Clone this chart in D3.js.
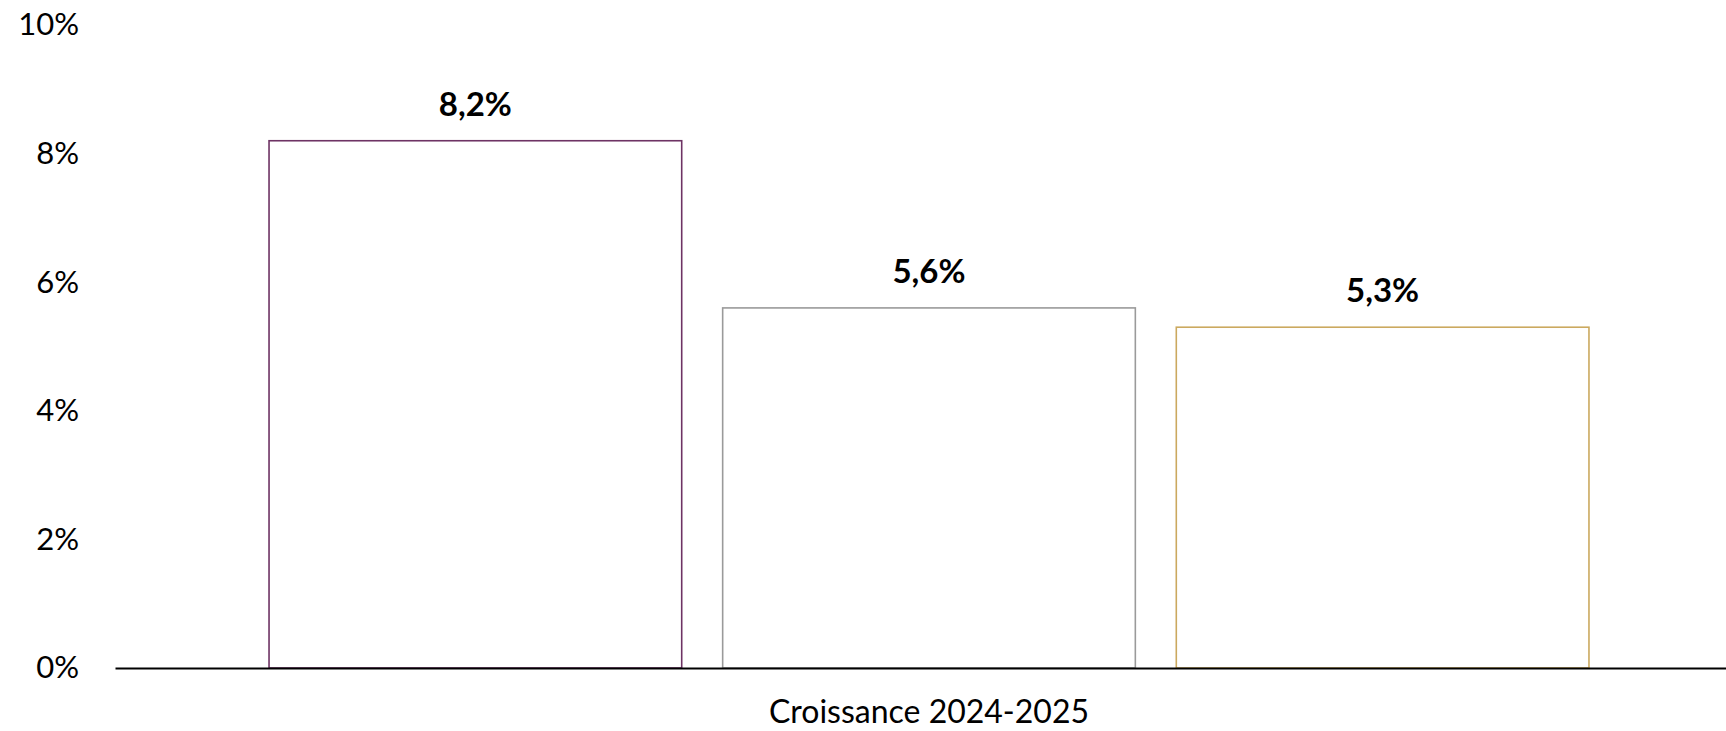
<!DOCTYPE html>
<html>
<head>
<meta charset="utf-8">
<script src="https://cdn.jsdelivr.net/npm/d3@7"></script>
<style>
  body { margin: 0; background: #fff; }
  text { font-family: Lato, "Open Sans", sans-serif; }
</style>
</head>
<body>
<div id="chart"></div>
<script>
const category = "Croissance 2024-2025";
const series = ["s1", "s2", "s3"];
const values = [8.2, 5.6, 5.3];
const labels = ["8,2%", "5,6%", "5,3%"];
const colors = ["#6e3364", "#9a9a9a", "#cba95f"];
const yTicks = [0, 2, 4, 6, 8, 10];

const W = 1726, H = 731;
const margin = {top: 25, right: -17, bottom: 63, left: 115};

const svg = d3.select("#chart").append("svg")
  .attr("width", W).attr("height", H);

const x = d3.scaleBand().domain([category])
  .range([margin.left, W - margin.right]).paddingInner(0).paddingOuter(0.1167);
const xs = d3.scaleBand().domain(series)
  .range([0, x.bandwidth()]).paddingInner(0.0903).paddingOuter(0);
const y = d3.scaleLinear().domain([0, 10]).range([H - margin.bottom, margin.top]);

// y tick labels (no axis line)
svg.append("g")
  .attr("transform", `translate(${margin.left},0)`)
  .call(d3.axisLeft(y).tickValues(yTicks).tickSize(0).tickPadding(36).tickFormat(d => d + "%"))
  .call(g => g.select(".domain").remove())
  .selectAll("text")
    .style("font-size", "31px")
    .style("font-family", "Lato, 'Open Sans', sans-serif")
    .attr("fill", "#000");

// bars
series.forEach((s, i) => {
  svg.append("rect")
    .attr("x", x(category) + xs(s))
    .attr("y", y(values[i]))
    .attr("width", xs.bandwidth())
    .attr("height", y(0) - y(values[i]))
    .attr("fill", "#fff")
    .attr("stroke", colors[i])
    .attr("stroke-width", 1.6);

  svg.append("text")
    .attr("x", x(category) + xs(s) + xs.bandwidth() / 2)
    .attr("y", y(values[i]) - 25)
    .attr("text-anchor", "middle")
    .style("font-size", "33px")
    .style("font-weight", "bold")
    .text(labels[i]);
});

// x axis
const xAxis = svg.append("g")
  .attr("transform", `translate(0,${y(0)})`)
  .call(d3.axisBottom(x).tickSize(0).tickPadding(32));
xAxis.select(".domain").attr("stroke", "#000").attr("stroke-width", 2);
xAxis.selectAll("text")
  .style("font-size", "32px")
  .style("font-family", "Lato, 'Open Sans', sans-serif")
  .attr("fill", "#000");
</script>
</body>
</html>
